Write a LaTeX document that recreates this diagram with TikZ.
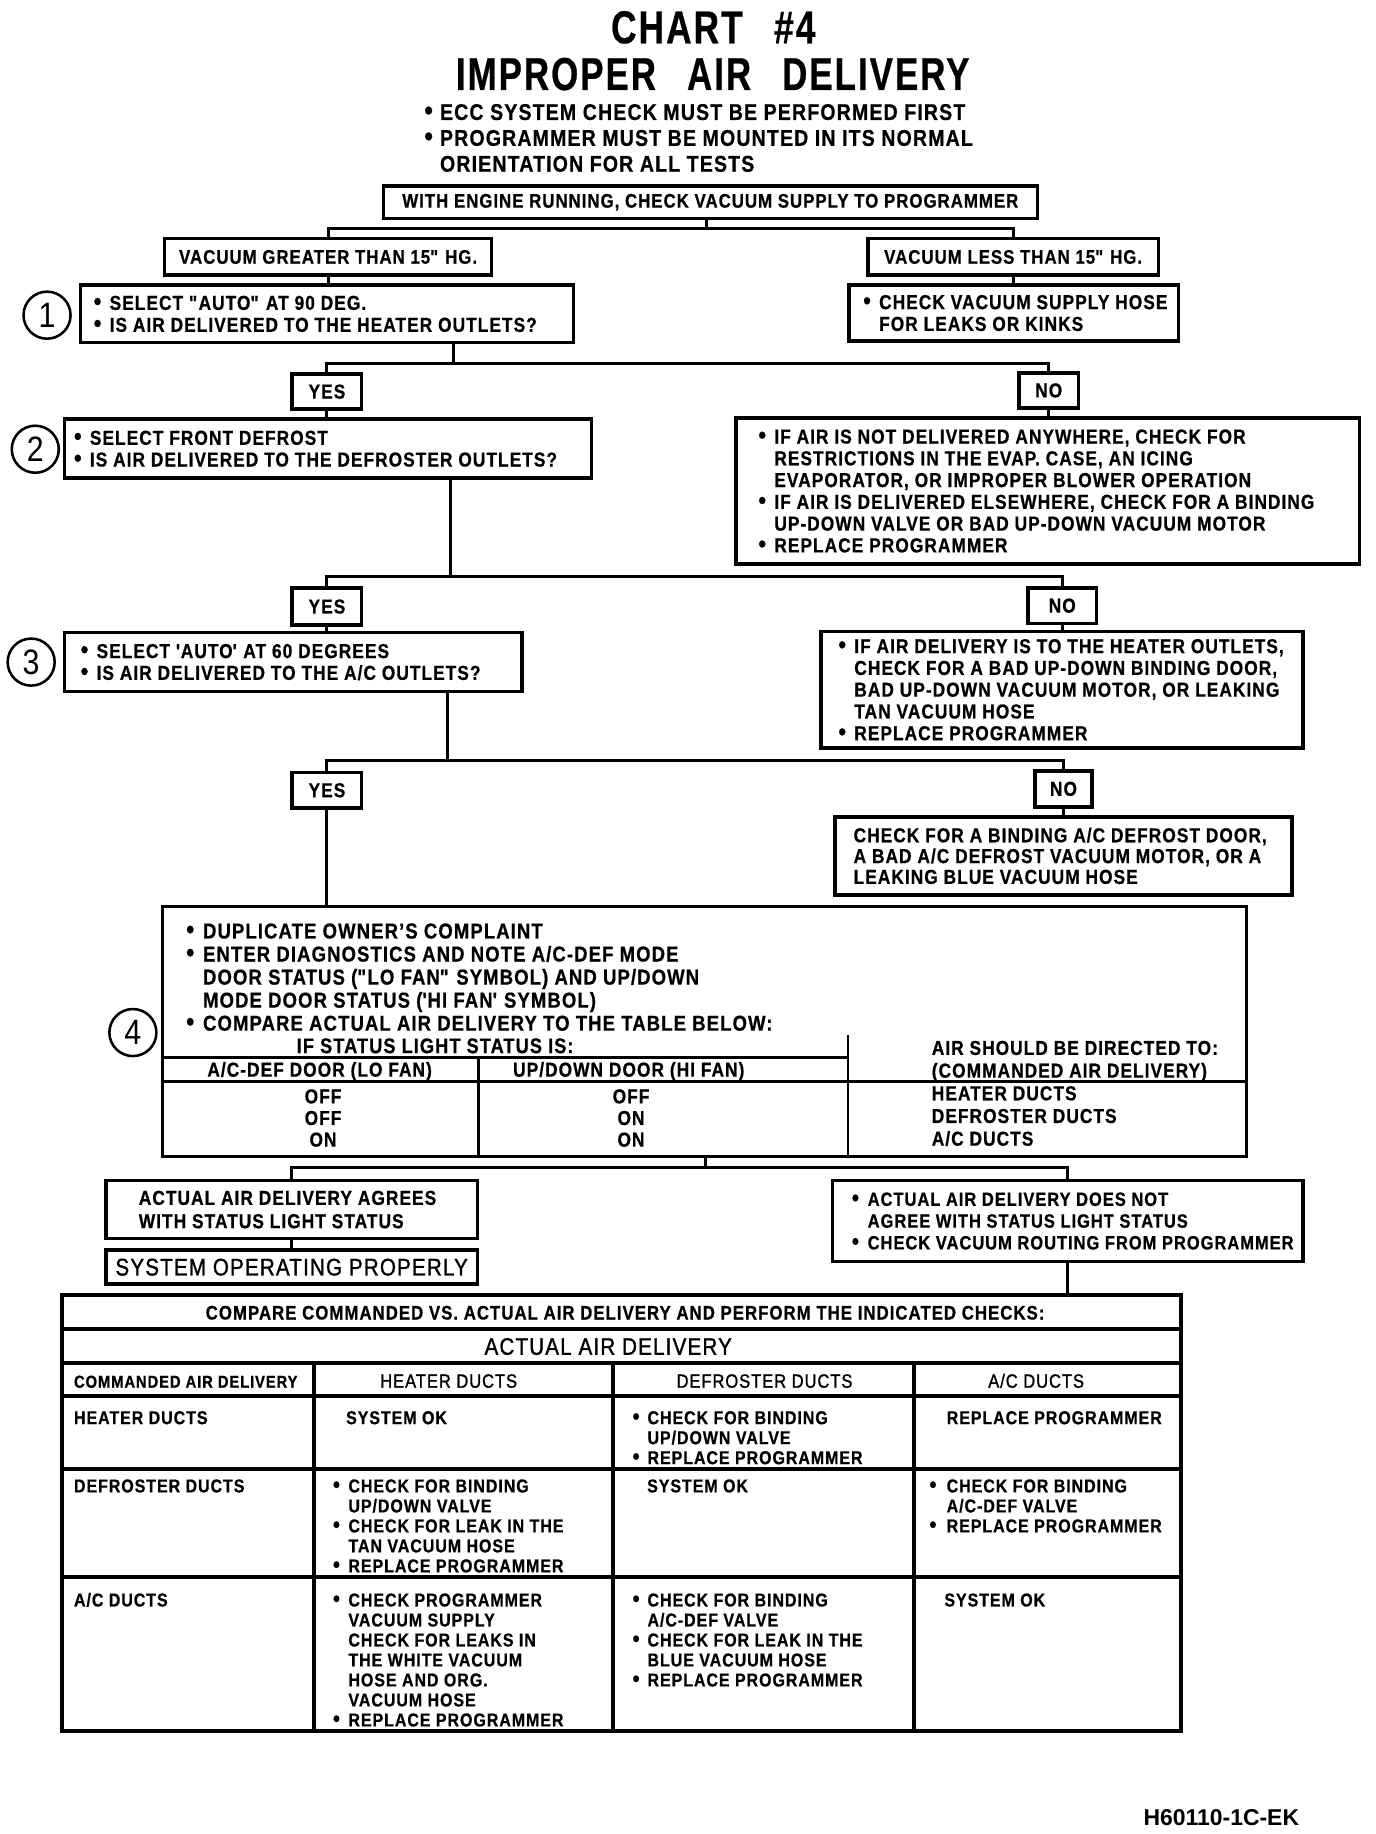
\documentclass[tikz,border=0pt]{standalone}
\usepackage{fontspec}
\usepackage{graphicx}
\setmainfont{Liberation Sans}[FakeStretch=0.86,LetterSpace=5,BoldFeatures={FakeBold=0.6}]
\newfontfamily\medf{Liberation Sans}[FakeStretch=0.86,LetterSpace=5,FakeBold=1.2]
\newfontfamily\footf{Liberation Sans}
\newcommand{\bu}[1][8.1pt]{\makebox[#1][l]{\scalebox{1.25}{•}}}
\newcommand{\ii}[1][8.1pt]{\hspace*{#1}}
\newcommand{\qd}{\textquotedbl}
% left-aligned box: name, x1, y1, x2, y2, pad, options, text
\newcommand{\mkbox}[8]{%
  \pgfmathsetmacro\bxw{(#4-#2)*0.6}\pgfmathsetmacro\bxh{(#5-#3)*0.6}\pgfmathsetmacro\bxp{#6*0.6}%
  \node[bx, minimum width=\bxw pt, minimum height=\bxh pt] (#1) at (#2,#3) {};%
  \node[bxt, #7] (#1-t) at ([xshift=\bxp pt]#1.west) {#8};}
% centred box: name, x1, y1, x2, y2, options, text
\newcommand{\mkboxc}[7]{%
  \pgfmathsetmacro\bxw{(#4-#2)*0.6}\pgfmathsetmacro\bxh{(#5-#3)*0.6}%
  \node[bx, minimum width=\bxw pt, minimum height=\bxh pt] (#1) at (#2,#3) {};%
  \node[bxt, anchor=center, align=center, #6] (#1-t) at (#1.center) {#7};}
% lines of text: style, prefix, x, first baseline y, spacing, list
\newcommand{\tlines}[6]{%
  \foreach \tl [count=\ti] in {#6} {\node[#1] (#2-\ti) at (#3,{#4+(\ti-1)*#5}) {\tl};}}
\tikzset{
  bx/.style={draw, line width=1.8pt, inner sep=0pt, outer sep=0pt, anchor=north west},
  bxt/.style={anchor=west, inner sep=0pt, align=left, font=\bfseries\fontsize{10.3}{11.1}\selectfont},
  cn/.style={line width=1.5pt},
  tbl/.style={line width=2pt},
  il/.style={line width=1.4pt},
  tx/.style={anchor=base west, inner sep=0pt, font=\bfseries\fontsize{10.3}{11.1}\selectfont},
  txc/.style={tx, anchor=base},
  cf/.style={tx, font=\bfseries\fontsize{9.5}{10.2}\selectfont},
  b4f/.style={tx, font=\bfseries\fontsize{11}{11.6}\selectfont},
  hf/.style={tx, font=\medf\fontsize{9.8}{10}\selectfont},
  circ/.style={draw, circle, line width=1.3pt, minimum size=24pt, inner sep=0pt, font=\mdseries\fontsize{18}{18}\selectfont},
}
\begin{document}
\begin{tikzpicture}[x=0.6pt,y=-0.6pt]
\fill[white] (0,0) rectangle (1170,1559.5);
\useasboundingbox (0,0) rectangle (1170,1559.5);

% ---------- title ----------
\node[txc, font=\bfseries\fontsize{23.5}{28}\selectfont] (title1) at (606.5,36.8) {\scalebox{0.89}[1]{CHART\hspace{18pt}\#4}};
\node[txc, font=\bfseries\fontsize{23.5}{28}\selectfont] (title2) at (606,76.5) {\scalebox{0.88}[1]{IMPROPER\hspace{18pt}AIR\hspace{18pt}DELIVERY}};
\tlines{tx, font=\bfseries\fontsize{11.6}{12}\selectfont}{hd}{360.5}{102}{22}{{\bu[8pt]ECC SYSTEM CHECK MUST BE PERFORMED FIRST},{\bu[8pt]PROGRAMMER MUST BE MOUNTED IN ITS NORMAL},{\ii[8pt]ORIENTATION FOR ALL TESTS}}

% ---------- flowchart boxes ----------
\mkboxc{b0}{326}{158}{882}{186}{font=\bfseries\fontsize{10}{11}\selectfont}{WITH ENGINE RUNNING, CHECK VACUUM SUPPLY TO PROGRAMMER}
\mkboxc{vg}{140}{203}{418}{234}{font=\bfseries\fontsize{10}{11}\selectfont}{VACUUM GREATER THAN 15\qd{} HG.}
\mkboxc{vl}{738}{203}{985}{234}{font=\bfseries\fontsize{10}{11}\selectfont}{VACUUM LESS THAN 15\qd{} HG.}
\mkbox{b1}{68.4}{242.4}{487.8}{291.4}{11}{font=\bfseries\fontsize{10.3}{11.2}\selectfont}{\bu SELECT \qd AUTO\qd{} AT 90 DEG.\\\bu IS AIR DELIVERED TO THE HEATER OUTLETS?}
\mkbox{r1}{721.7}{242.4}{1002}{290}{12}{}{\bu CHECK VACUUM SUPPLY HOSE\\\ii FOR LEAKS OR KINKS}
\mkboxc{yes1}{248.5}{318}{307.5}{348}{}{YES}
\mkboxc{no1}{866.5}{317}{917}{347}{}{NO}
\mkbox{b2}{55}{356.5}{503}{406.6}{7.6}{}{\bu SELECT FRONT DEFROST\\\bu IS AIR DELIVERED TO THE DEFROSTER OUTLETS?}
\mkbox{n1}{626}{355.5}{1156}{479.5}{18.6}{}{\bu IF AIR IS NOT DELIVERED ANYWHERE, CHECK FOR\\\ii RESTRICTIONS IN THE EVAP. CASE, AN ICING\\\ii EVAPORATOR, OR IMPROPER BLOWER OPERATION\\\bu IF AIR IS DELIVERED ELSEWHERE, CHECK FOR A BINDING\\\ii UP-DOWN VALVE OR BAD UP-DOWN VACUUM MOTOR\\\bu REPLACE PROGRAMMER}
\mkboxc{yes2}{248.5}{500}{307.5}{531.5}{}{YES}
\mkboxc{no2}{874}{500}{932.5}{530}{}{NO}
\mkbox{b3}{55}{538}{444}{588}{13.3}{}{\bu SELECT \textquotesingle AUTO\textquotesingle{} AT 60 DEGREES\\\bu IS AIR DELIVERED TO THE A/C OUTLETS?}
\mkbox{n2}{698}{537}{1108}{636}{14.6}{}{\bu IF AIR DELIVERY IS TO THE HEATER OUTLETS,\\\ii CHECK FOR A BAD UP-DOWN BINDING DOOR,\\\ii BAD UP-DOWN VACUUM MOTOR, OR LEAKING\\\ii TAN VACUUM HOSE\\\bu REPLACE PROGRAMMER}
\mkboxc{yes3}{248.5}{657}{307.5}{687}{}{YES}
\mkboxc{no3}{880}{655.6}{928.6}{686}{}{NO}
\mkbox{n3}{710}{694.5}{1098.6}{761}{15.5}{font=\bfseries\fontsize{10.3}{10.6}\selectfont}{CHECK FOR A BINDING A/C DEFROST DOOR,\\A BAD A/C DEFROST VACUUM MOTOR, OR A\\LEAKING BLUE VACUUM HOSE}

% circles
\node[circ] (k1) at (40,268) {1};
\node[circ] (k2) at (30,382) {2};
\node[circ] (k3) at (26.5,563) {3};
\node[circ] (k4) at (113,878) {4};

% ---------- box 4 ----------
\node[bx, minimum width=553.2pt, minimum height=127.5pt] (b4) at (138,771) {};
\tlines{b4f}{b4l}{158}{798}{19.6}{{\bu[8.6pt]DUPLICATE OWNER'S COMPLAINT},{\bu[8.6pt]ENTER DIAGNOSTICS AND NOTE A/C-DEF MODE},{\ii[8.6pt]DOOR STATUS (\qd LO FAN\qd{} SYMBOL) AND UP/DOWN},{\ii[8.6pt]MODE DOOR STATUS (\textquotesingle HI FAN\textquotesingle{} SYMBOL)},{\bu[8.6pt]COMPARE ACTUAL AIR DELIVERY TO THE TABLE BELOW:}}
\node[b4f, font=\bfseries\fontsize{10.8}{11}\selectfont] (ifs) at (252,895.5) {IF STATUS LIGHT STATUS IS:};
\draw[il] (138,899.5) -- (721,899.5);
\draw[il] (138,919.5) -- (1060,919.5);
\draw[il] (407,899.5) -- (407,983.5);
\draw[il] (721,880) -- (721,983.5);
\node[tx] (sh1) at (176,915.5) {A/C-DEF DOOR (LO FAN)};
\node[tx] (sh2) at (436,915.5) {UP/DOWN DOOR (HI FAN)};
\tlines{tx}{sh3}{792}{897}{19.3}{{AIR SHOULD BE DIRECTED TO:},{(COMMANDED AIR DELIVERY)},{HEATER DUCTS},{DEFROSTER DUCTS},{A/C DUCTS}}
\tlines{txc}{sv1}{274.7}{938.2}{18.4}{OFF,OFF,ON}
\tlines{txc}{sv2}{536.6}{938.2}{18.4}{OFF,ON,ON}

% ---------- outcome boxes ----------
\mkbox{ag}{90}{1004}{406}{1053}{27.7}{font=\bfseries\fontsize{10.3}{11.9}\selectfont}{ACTUAL AIR DELIVERY AGREES\\WITH STATUS LIGHT STATUS}
\mkboxc{so}{90}{1063}{406}{1092}{font=\medf\fontsize{12.2}{13}\selectfont}{SYSTEM OPERATING PROPERLY}
\mkbox{na}{708}{1004}{1108}{1072.5}{16}{font=\bfseries\fontsize{9.8}{11.1}\selectfont}{\bu ACTUAL AIR DELIVERY DOES NOT\\\ii AGREE WITH STATUS LIGHT STATUS\\\bu CHECK VACUUM ROUTING FROM PROGRAMMER}

% ---------- bottom table ----------
\node[bx, line width=2pt, minimum width=570.6pt, minimum height=222.6pt] (T) at (53,1101) {};
\draw[tbl] (53,1130) -- (1004,1130);
\draw[tbl] (53,1159) -- (1004,1159);
\draw[tbl] (53,1187) -- (1004,1187);
\draw[tbl] (53,1249) -- (1004,1249);
\draw[tbl] (53,1341) -- (1004,1341);
\draw[tbl] (267,1159) -- (267,1472);
\draw[tbl] (521,1159) -- (521,1472);
\draw[tbl] (777,1159) -- (777,1472);
\node[tx, font=\bfseries\fontsize{10}{11}\selectfont] (tt) at (174.6,1122) {COMPARE COMMANDED VS. ACTUAL AIR DELIVERY AND PERFORM THE INDICATED CHECKS:};
\node[tx, font=\medf\fontsize{12.2}{13}\selectfont] (ta) at (411.7,1152) {ACTUAL AIR DELIVERY};
\node[tx, font=\bfseries\fontsize{8.8}{10}\selectfont] (th1) at (62.6,1180) {COMMANDED AIR DELIVERY};
\node[hf] (th2) at (323,1180) {HEATER DUCTS};
\node[hf] (th3) at (575,1180) {DEFROSTER DUCTS};
\node[hf] (th4) at (840,1180) {A/C DUCTS};
% row heater
\node[cf] (r1c1) at (62.6,1211) {HEATER DUCTS};
\node[cf] (r1c2) at (294,1211) {SYSTEM OK};
\tlines{cf}{r1c3}{537.6}{1211}{17}{{\bu[7.6pt]CHECK FOR BINDING},{\ii[7.6pt]UP/DOWN VALVE},{\bu[7.6pt]REPLACE PROGRAMMER}}
\node[cf] (r1c4) at (804.7,1211) {REPLACE PROGRAMMER};
% row defroster
\node[cf] (r2c1) at (62.6,1269) {DEFROSTER DUCTS};
\tlines{cf}{r2c2}{282.8}{1269}{17}{{\bu[7.9pt]CHECK FOR BINDING},{\ii[7.9pt]UP/DOWN VALVE},{\bu[7.9pt]CHECK FOR LEAK IN THE},{\ii[7.9pt]TAN VACUUM HOSE},{\bu[7.9pt]REPLACE PROGRAMMER}}
\node[cf] (r2c3) at (550,1269) {SYSTEM OK};
\tlines{cf}{r2c4}{790}{1269}{17}{{\bu[8.8pt]CHECK FOR BINDING},{\ii[8.8pt]A/C-DEF VALVE},{\bu[8.8pt]REPLACE PROGRAMMER}}
% row a/c
\node[cf] (r3c1) at (62.6,1366) {A/C DUCTS};
\tlines{cf}{r3c2}{282.8}{1366}{17}{{\bu[7.9pt]CHECK PROGRAMMER},{\ii[7.9pt]VACUUM SUPPLY},{\ii[7.9pt]CHECK FOR LEAKS IN},{\ii[7.9pt]THE WHITE VACUUM},{\ii[7.9pt]HOSE AND ORG.},{\ii[7.9pt]VACUUM HOSE},{\bu[7.9pt]REPLACE PROGRAMMER}}
\tlines{cf}{r3c3}{537.6}{1366}{17}{{\bu[7.6pt]CHECK FOR BINDING},{\ii[7.6pt]A/C-DEF VALVE},{\bu[7.6pt]CHECK FOR LEAK IN THE},{\ii[7.6pt]BLUE VACUUM HOSE},{\bu[7.6pt]REPLACE PROGRAMMER}}
\node[cf] (r3c4) at (802.7,1366) {SYSTEM OK};

% ---------- connectors ----------
\coordinate (j0) at (601,194.5);
\draw[cn] (b0.south -| j0) -- (j0);
\draw[cn] (vg.north) |- (j0) -| (vl.north);
\draw[cn] (vg.south) -- (vg.south |- b1.north);
\draw[cn] (vl.south) -- (vl.south |- r1.north);
\coordinate (c1) at (386,309);
\draw[cn] (b1.south -| c1) -- (c1);
\draw[cn] (yes1.north) |- (c1) -| (no1.north);
\draw[cn] (yes1.south) -- (yes1.south |- b2.north);
\draw[cn] (no1.south) -- (no1.south |- n1.north);
\coordinate (c2) at (383.3,490.4);
\draw[cn] (b2.south -| c2) -- (c2);
\draw[cn] (yes2.north) |- (c2) -| (no2.north);
\draw[cn] (yes2.south) -- (yes2.south |- b3.north);
\draw[cn] (no2.south) -- (no2.south |- n2.north);
\coordinate (c3) at (380.8,647);
\draw[cn] (b3.south -| c3) -- (c3);
\draw[cn] (yes3.north) |- (c3) -| (no3.north);
\draw[cn] (no3.south) -- (no3.south |- n3.north);
\draw[cn] (yes3.south) -- (yes3.south |- b4.north);
\coordinate (c4) at (600,993);
\draw[cn] (b4.south -| c4) -- (c4);
\draw[cn] (ag.north) |- (c4) -| (na.north);
\draw[cn] (ag.south) -- (ag.south |- so.north);
\draw[cn] (na.south) -- (na.south |- T.north);

% footer
\node[anchor=base east, inner sep=0pt, font=\footf\bfseries\fontsize{11.7}{12}\selectfont] (foot) at (1105,1552) {H60110-1C-EK};
\end{tikzpicture}
\end{document}
